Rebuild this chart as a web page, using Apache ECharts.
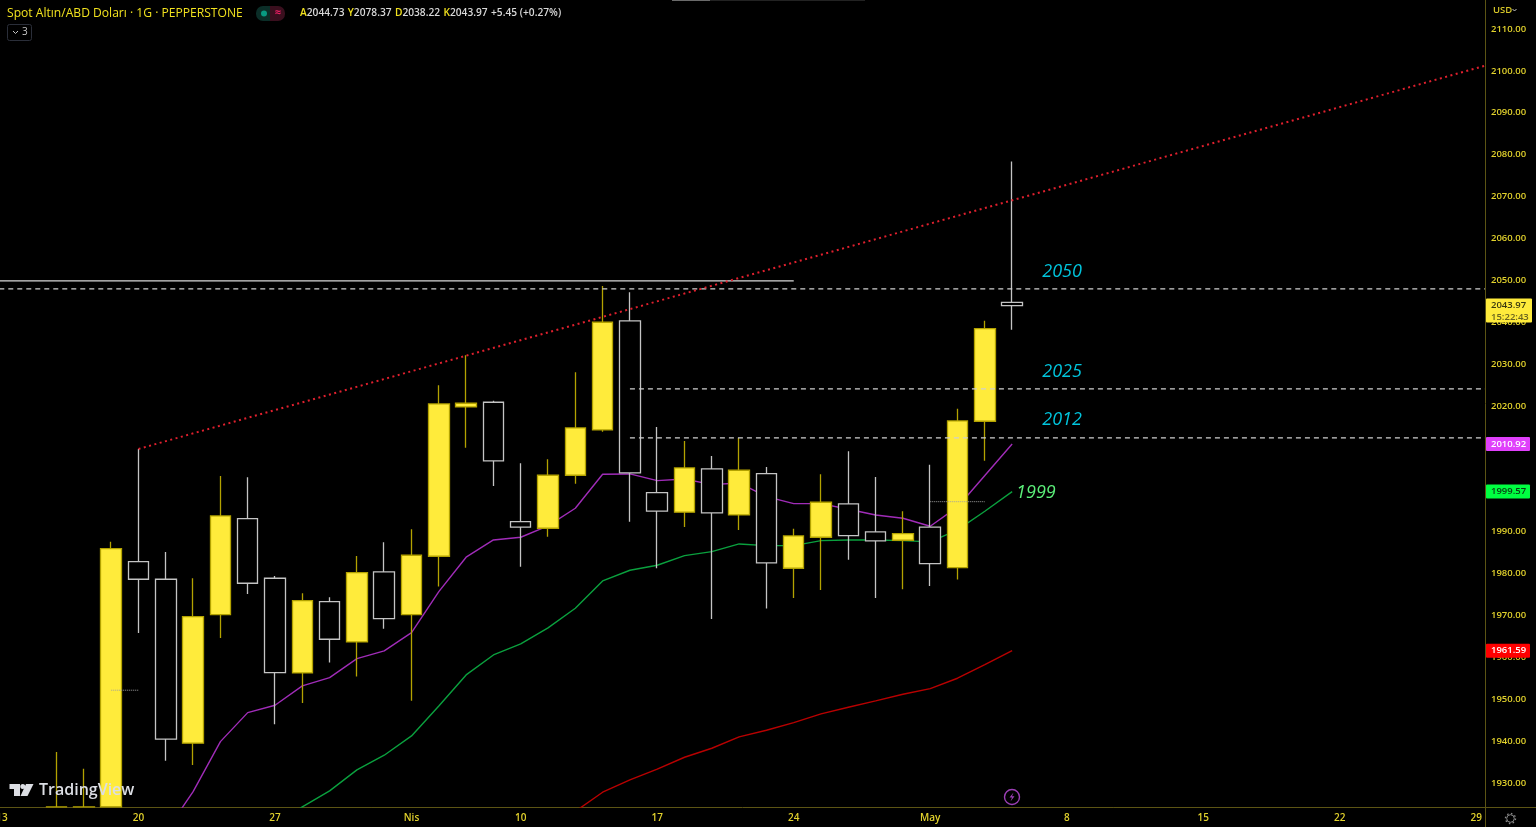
<!DOCTYPE html>
<html>
<head>
<meta charset="utf-8">
<style>html,body{margin:0;padding:0;background:#000;overflow:hidden}#c{width:1536px;height:827px}</style>
<script src="https://cdn.jsdelivr.net/npm/echarts@6/dist/echarts.min.js"></script>
</head>
<body>
<div id="c"></div>
<script>
// trading-day index of the first candle in the arrays below
const firstCandle = 2;
const opens  = [1924.3,1924.3,1924.3,1982.85,1978.64,1939.5,1970.2,1993.11,1978.88,1956.28,1973.3,1963.68,1980.39,1970.2,1984.13,2019.77,2020.89,1992.39,1990.82,2003.47,2014.28,2040.3,1999.31,1994.64,2004.97,1993.99,2003.85,1981.27,1988.67,1996.62,1989.93,1987.95,1991.06,1981.41,2016.36,2044.73];
const closes = [1924.31,1924.31,1985.95,1978.64,1940.45,1969.72,1993.75,1977.69,1956.35,1973.54,1964.32,1980.22,1969.24,1984.37,2020.49,2020.65,2006.88,1991.06,2003.47,2014.76,2039.99,2004.02,1994.88,2005.21,1994.47,2004.66,1982.53,1988.98,1997.02,1989.05,1987.79,1989.53,1982.37,2016.43,2038.46,2043.97];
const lows   = [1924.3,1924.3,1924.3,1965.83,1935.34,1934.32,1964.63,1975.13,1944.03,1949.12,1958.74,1955.4,1966.85,1949.66,1976.88,2010.06,2000.91,1981.65,1988.81,2001.46,2013.88,1992.39,1981.27,1991.13,1969.17,1990.41,1971.63,1974.18,1976.09,1983.32,1974.18,1976.26,1977.04,1978.55,2006.95,2038.22];
const highs  = [1937.4,1933.4,1987.6,2009.75,1985.16,1978.88,2003.3,2002.99,1979.43,1975.3,1974.35,1984.21,1987.48,1990.58,2024.95,2032.11,2021.27,2006.33,2007.29,2028.05,2048.65,2047.15,2015,2011.66,2008.08,2012.37,2005.45,1990.72,2003.71,2009.2,2003.06,1994.88,2006,2019.37,2040.37,2078.37];

const purpleStart = 6;
const purpleMA = [1918.37,1927.94,1939.88,1946.8,1948.57,1953.17,1955.15,1959.69,1961.53,1965.9,1975.68,1983.9,1988.02,1988.67,1991.37,1995.59,2003.71,2003.78,2002.18,2002.58,2001.22,2001.63,1998.36,1996.69,1996.69,1995.35,1993.99,1993.2,1991.29,1995.9,2003.42,2010.92];
const greenStart = 10;
const greenMA = [1920,1924.29,1928.11,1933.12,1936.63,1941.24,1948.4,1955.8,1960.57,1963.2,1967.02,1971.72,1978.24,1980.79,1981.98,1984.28,1985.23,1987.07,1986.66,1986.66,1987.86,1988.02,1988.02,1987.86,1987.55,1990.41,1994.88,1999.57];
const redStart = 21;
const redMA = [1923.22,1927.8,1930.74,1933.29,1936.15,1938.3,1941,1942.6,1944.41,1946.49,1948.09,1949.59,1951.19,1952.53,1955.01,1958.26,1961.59];

const priceTicks = [1930,1940,1950,1960,1970,1980,1990,2000,2010,2020,2030,2040,2050,2060,2070,2080,2090,2100,2110];
const dayTickIdx = [0,5,10,15,19,24,29,34,39,44,49,54];
const dayTickTxt = ['13','20','27','Nis','10','17','24','May','8','15','22','29'];

const trendLine = [[5,2009.75],[54.29,2101.17]];
const solidLevel = [[-0.1,2049.85],[29,2049.85]];
const dashLevelA = [[-0.1,2047.94],[54.32,2047.94]];
const dashLevelB = [[23,2024.07],[54.32,2024.07]];
const dashLevelC = [[23,2012.37],[54.32,2012.37]];
const dotLevelA = [[4,1952.15],[5,1952.15]];
const dotLevelB = [[34,1997.16],[36,1997.16]];

const cyanNotes = [[38.83,2052,'2050'],[38.83,2028.1,'2025'],[38.83,2016.6,'2012']];
const greenNotes = [[37.87,1999.3,'1999']];

const symbolTitle = 'Spot Altın/ABD Doları · 1G · PEPPERSTONE';
const ohlcLetters = ['A','Y','D','K'];
const ohlcValues = ['2044.73','2078.37','2038.22','2043.97'];
const changeText = '+5.45 (+0.27%)';
const priceTags = [
  {v:2010.92, bg:'#e040fb', fg:'#ffffff', w:45},
  {v:1999.57, bg:'#00ff41', fg:'#0b3a14', w:45},
  {v:1961.59, bg:'#ff0000', fg:'#ffffff', w:45}
];
const lastPrice = 2043.97;
const countdown = '15:22:43';

const FONT = '"Open Sans", sans-serif';
const AX = '#e2d22c';
const AXLINE = '#5c5414';
const chart = echarts.init(document.getElementById('c'));

function flat(pts,color,type,width,z){
  return {type:'line',data:pts,symbol:'none',silent:true,z:z||6,animation:false,
    lineStyle:{color:color,width:width||1,type:type,cap:'butt'}};
}
function series(start,arr){return arr.map((v,i)=>[start+i,v]);}
function notes(data,color){
  return {type:'scatter',data:data,symbolSize:1,itemStyle:{color:'transparent',opacity:1},silent:true,z:8,
    label:{show:true,position:'inside',formatter:p=>p.value[2],color:color,opacity:1,fontFamily:FONT,fontStyle:'italic',fontWeight:500,fontSize:18}};
}

chart.setOption({
  backgroundColor:'#000',
  animation:false,
  grid:{left:0,top:0,width:1485,height:807,containLabel:false,outerBoundsMode:'none'},
  xAxis:{type:'value',min:-0.0733,max:54.32,containShape:false,splitLine:{show:false},
    axisLine:{show:true,onZero:false,lineStyle:{color:AXLINE,width:1}},axisTick:{show:false},
    axisLabel:{customValues:dayTickIdx,margin:6,color:AX,fontFamily:FONT,fontSize:10,fontWeight:600,
      formatter:v=>dayTickTxt[dayTickIdx.indexOf(v)]||''}},
  yAxis:{type:'value',position:'right',min:1924.27,max:2116.92,scale:true,splitLine:{show:false},
    axisLine:{show:true,onZero:false,lineStyle:{color:AXLINE,width:1}},axisTick:{show:false},
    axisLabel:{customValues:priceTicks,margin:6,color:AX,fontFamily:FONT,fontSize:9.5,fontWeight:600,
      formatter:v=>v.toFixed(2)}},
  series:[
    {type:'line',data:series(purpleStart,purpleMA),symbol:'none',silent:true,z:2,lineStyle:{color:'#a02cb8',width:1.4}},
    {type:'line',data:series(greenStart,greenMA),symbol:'none',silent:true,z:2,lineStyle:{color:'#0aa03e',width:1.4}},
    {type:'line',data:series(redStart,redMA),symbol:'none',silent:true,z:2,lineStyle:{color:'#b80000',width:1.4}},
    {type:'candlestick',z:4,barWidth:21,silent:true,
      data:opens.map((o,i)=>[firstCandle+i,o,closes[i],lows[i],highs[i]]),
      encode:{x:0,y:[1,2,3,4]},
      itemStyle:{color:'#ffeb3b',color0:'#000000',borderColor:'#b3a200',borderColor0:'#c4c4c4',borderWidth:1.3}},
    flat(solidLevel,'#d8d8d8','solid',1.2),
    flat(dashLevelA,'#d0d0d0',[5,4],1.2),
    flat(dashLevelB,'#d0d0d0',[5,4],1.2),
    flat(dashLevelC,'#d0d0d0',[5,4],1.2),
    flat(dotLevelA,'#a0a0a0',[1,1],1),
    flat(dotLevelB,'#a0a0a0',[1,1],1),
    flat(trendLine,'#e0202e',[2,3.5],2),
    notes(cyanNotes,'#00c4dc'),
    notes(greenNotes,'#5cf07a')
  ]
});

const yOf = v => chart.convertToPixel({yAxisIndex:0},v);
const g = [];
g.push({type:'line',shape:{x1:1485.5,y1:807,x2:1485.5,y2:827},style:{stroke:AXLINE,lineWidth:1},z:10});
g.push({type:'line',shape:{x1:1485,y1:807.5,x2:1536,y2:807.5},style:{stroke:AXLINE,lineWidth:1},z:10});
g.push({type:'rect',shape:{x:672,y:0,width:38,height:1},style:{fill:'#6a6a6a'},z:10});
g.push({type:'rect',shape:{x:710,y:0,width:155,height:1},style:{fill:'#222'},z:10});
priceTags.forEach(t=>{
  const y = yOf(t.v);
  g.push({type:'rect',shape:{x:1486,y:y-7,width:t.w-1,height:14,r:1},style:{fill:t.bg},z:20});
  g.push({type:'text',style:{x:1491,y:y,text:t.v.toFixed(2),fill:t.fg,font:'600 9.5px '+FONT,textVerticalAlign:'middle'},z:21});
});
const ly = yOf(lastPrice);
g.push({type:'rect',shape:{x:1486,y:ly-7,width:46,height:24,r:1},style:{fill:'#ffeb3b'},z:20});
g.push({type:'text',style:{x:1491,y:ly,text:lastPrice.toFixed(2),fill:'#3a3a10',font:'600 9.5px '+FONT,textVerticalAlign:'middle'},z:21});
g.push({type:'text',style:{x:1491,y:ly+11.5,text:countdown,fill:'#6a6420',font:'600 9.5px '+FONT,textVerticalAlign:'middle'},z:21});
g.push({type:'text',style:{x:1493,y:10,text:'USD',fill:'#d8c828',font:'600 9.5px '+FONT,textVerticalAlign:'middle'},z:21});
g.push({type:'polyline',shape:{points:[[1512.5,9],[1514.5,11],[1516.5,9]]},style:{stroke:'#c8c8c8',lineWidth:1,fill:null},z:21});
g.push({type:'text',style:{x:7,y:13.5,text:symbolTitle,fill:'#f2e21e',font:'12.1px '+FONT,textVerticalAlign:'middle'},z:21});
g.push({type:'rect',shape:{x:256,y:6,width:14,height:15,r:[7,0,0,7]},style:{fill:'#0b2e28'},z:21});
g.push({type:'rect',shape:{x:270,y:6,width:15,height:15,r:[0,7,7,0]},style:{fill:'#3a0f1e'},z:21});
g.push({type:'circle',shape:{cx:264,cy:13.5,r:3},style:{fill:'#089981'},z:22});
g.push({type:'text',style:{x:278,y:13,text:'≈',fill:'#e91e63',font:'700 11px '+FONT,textAlign:'center',textVerticalAlign:'middle'},z:22});
const ohlcRich = ohlcLetters.map((l,i)=>'{l|'+l+'}{v|'+ohlcValues[i]+'}').join(' ')+' {v|'+changeText+'}';
g.push({type:'text',style:{x:300,y:13.5,text:ohlcRich,textVerticalAlign:'middle',
  rich:{l:{fill:'#f2e21e',font:'600 10.2px '+FONT},v:{fill:'#d8d8d8',font:'600 10.2px '+FONT}}},z:21});
g.push({type:'rect',shape:{x:7.5,y:24.5,width:24,height:16,r:2},style:{fill:'#000',stroke:'#2a2e39',lineWidth:1},z:21});
g.push({type:'polyline',shape:{points:[[13,31],[15.5,33.5],[18,31]]},style:{stroke:'#c8c8c8',lineWidth:1,fill:null},z:22});
g.push({type:'text',style:{x:22,y:32.5,text:'3',fill:'#c8c8c8',font:'10px '+FONT,textVerticalAlign:'middle'},z:22});
g.push({type:'polygon',shape:{points:[[9.5,784],[20,784],[20,796],[14,796],[14,789],[9.5,789]]},style:{fill:'#dcdee4'},z:21});
g.push({type:'circle',shape:{cx:22.8,cy:786.6,r:2.5},style:{fill:'#dcdee4'},z:21});
g.push({type:'polygon',shape:{points:[[26,784],[33.5,784],[27.5,796],[20.5,796]]},style:{fill:'#dcdee4'},z:21});
g.push({type:'text',style:{x:39,y:790.5,text:'TradingView',fill:'#dcdee4',font:'600 16px '+FONT,textVerticalAlign:'middle'},z:21});
g.push({type:'circle',shape:{cx:1012,cy:797,r:7.5},style:{fill:'#000',stroke:'#9c3fb5',lineWidth:1.4},z:21});
g.push({type:'polygon',shape:{points:[[1013.5,792.5],[1009.5,797.5],[1012,797.5],[1010.5,801.5],[1014.5,796.2],[1012,796.2]]},style:{fill:'#9c3fb5'},z:22});
g.push({type:'circle',shape:{cx:1510.5,cy:818.5,r:3.8},style:{fill:'none',stroke:'#8a8a8a',lineWidth:1},z:21});
g.push({type:'circle',shape:{cx:1510.5,cy:818.5,r:5},style:{fill:'none',stroke:'#8a8a8a',lineWidth:1.4,lineDash:[1.5,2.4]},z:21});
chart.setOption({graphic:{elements:g}});
</script>
</body>
</html>
